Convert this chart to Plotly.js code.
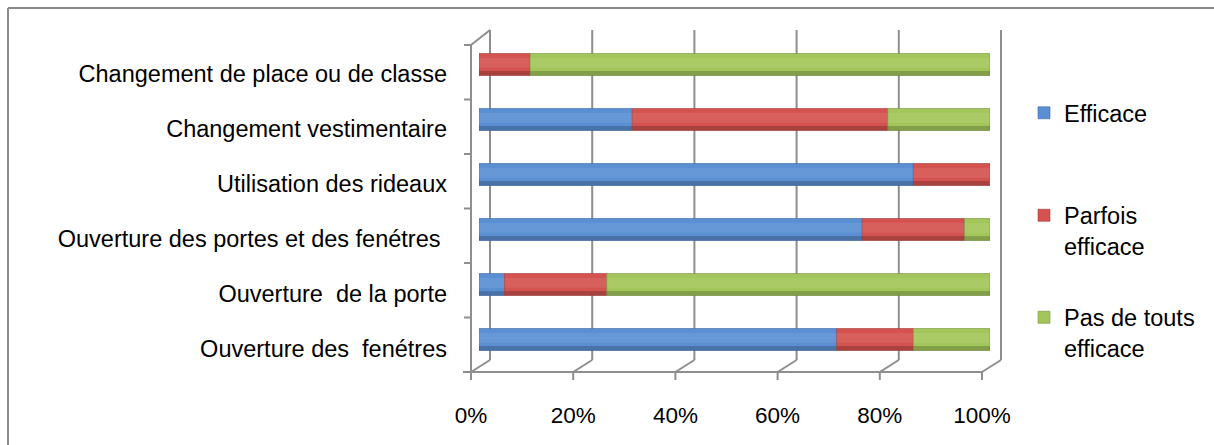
<!DOCTYPE html>
<html>
<head>
<meta charset="utf-8">
<script src="https://cdn.plot.ly/plotly-3.0.1.min.js"></script>
<style>
  html, body { margin: 0; padding: 0; background: #fff; }
  #chart { width: 1214px; height: 445px; }
</style>
</head>
<body>
<div id="chart"></div>
<script>
// ---- data (bottom to top, as drawn) ----
const categories = [
  'Ouverture des\u00a0 fenétres',
  'Ouverture\u00a0 de la porte',
  'Ouverture des portes et des fenétres\u00a0',
  'Utilisation des rideaux',
  'Changement vestimentaire',
  'Changement de place ou de classe'
];
const seriesNames = ['Efficace', 'Parfois<br>efficace', 'Pas de touts<br>efficace'];
const efficace        = [70, 5, 75, 85, 30, 0];
const parfoisEfficace = [15, 20, 20, 15, 50, 10];
const pasEfficace     = [15, 75, 5, 0, 20, 90];
const tickVals = [0, 20, 40, 60, 80, 100];
const tickLabels = ['0%', '20%', '40%', '60%', '80%', '100%'];

// ---- styling ----
const colors = ['#5a8fd3', '#d4524f', '#a3c65a'];
const edgeColors = ['#3a6aa5', '#a53c3a', '#76923c'];
const FONT = 'Liberation Sans, Arial, sans-serif';

const PLOT_TOP = 37, PLOT_H = 330, PLOT_BOTTOM = PLOT_TOP + PLOT_H;
const PLOT_LEFT = 479, PLOT_W = 511;
const X_MAX = 100;
const P = px => (PLOT_BOTTOM - px) / PLOT_H;

const allSeries = [efficace, parfoisEfficace, pasEfficace];
const bases = [];
let running = categories.map(() => 0);
allSeries.forEach(s => { bases.push(running.slice()); running = running.map((r, i) => r + s[i]); });

const BW = 0.4;
const traces = [];
allSeries.forEach((s, k) => {
  traces.push({
    type: 'bar', orientation: 'h', y: categories, x: s, base: bases[k],
    width: BW, offset: -BW / 2, name: seriesNames[k],
    marker: { color: colors[k], line: { color: edgeColors[k], width: 0.6 } },
    legend: k === 0 ? 'legend' : 'legend' + (k + 1),
    hoverinfo: 'skip'
  });
  // cylinder shading: dark lower band + soft light upper band
  traces.push({
    type: 'bar', orientation: 'h', y: categories, x: s, base: bases[k],
    width: 0.08, offset: -BW / 2, showlegend: false, hoverinfo: 'skip',
    marker: { color: 'rgba(0,0,0,0.2)', line: { width: 0 } }
  });
  traces.push({
    type: 'bar', orientation: 'h', y: categories, x: s, base: bases[k],
    width: 0.18, offset: -0.06, showlegend: false, hoverinfo: 'skip',
    marker: { color: 'rgba(255,255,255,0.08)', line: { width: 0 } }
  });
});

// ---- 3D frame decorations (paper-referenced so they are not clipped) ----
const gridColor = '#8e8e8e';
const FRONT_DX = -8, BACK_DX = 11;
const shapes = [];
function seg(v, dx0, py0, dx1, py1) {
  shapes.push({ type: 'line', layer: 'below', xref: 'paper', xsizemode: 'pixel', xanchor: v / X_MAX,
    x0: dx0, x1: dx1, yref: 'paper', y0: P(py0), y1: P(py1),
    line: { color: gridColor, width: 2 } });
}
tickVals.forEach(v => {
  seg(v, BACK_DX, 360, BACK_DX, 30);          // back gridline
  seg(v, FRONT_DX, 372, BACK_DX, 360);        // floor diagonal
  seg(v, FRONT_DX, 372, FRONT_DX, 380);       // front tick
});
shapes.push({ type: 'line', layer: 'below', xref: 'paper', xsizemode: 'pixel', xanchor: 0,
  x0: -16, x1: PLOT_W + FRONT_DX, yref: 'paper', y0: P(372), y1: P(372),
  line: { color: gridColor, width: 2 } });  // front floor edge
seg(0, FRONT_DX, 45, FRONT_DX, 372);          // wall front edge
seg(0, FRONT_DX, 45, BACK_DX, 30);            // wall top
for (let k = 0; k <= categories.length; k++) seg(0, -15, 372 - 54.5 * k, FRONT_DX, 372 - 54.5 * k);
// outer chart border (left + top)
shapes.push({ type: 'line', xref: 'paper', xsizemode: 'pixel', xanchor: 0, x0: 8 - PLOT_LEFT, x1: 8 - PLOT_LEFT,
  yref: 'paper', y0: P(8), y1: P(450), line: { color: '#8a8a8a', width: 2 } });
shapes.push({ type: 'line', xref: 'paper', xsizemode: 'pixel', xanchor: 0, x0: 8 - PLOT_LEFT, x1: 1214 - PLOT_LEFT,
  yref: 'paper', y0: P(8), y1: P(8), line: { color: '#8a8a8a', width: 2 } });

const legendBase = { bgcolor: 'rgba(0,0,0,0)', font: { family: FONT, size: 23.5, color: '#000' },
  xanchor: 'left', yanchor: 'middle', valign: 'top', itemwidth: 30 };
const lx = (1024 - PLOT_LEFT) / PLOT_W;

const layout = {
  width: 1214, height: 445,
  margin: { l: PLOT_LEFT, r: 1214 - PLOT_LEFT - PLOT_W, t: PLOT_TOP, b: 445 - PLOT_BOTTOM, pad: 0 },
  paper_bgcolor: '#fff', plot_bgcolor: 'rgba(0,0,0,0)',
  barmode: 'overlay',
  font: { family: FONT, color: '#000' },
  xaxis: { range: [0, X_MAX], tickvals: tickVals, ticktext: tickLabels, showgrid: false, zeroline: false,
    showline: false, ticks: '', tickfont: { family: FONT, size: 22.5, color: '#000' },
    ticklabelshift: -8, ticklabelstandoff: 32, fixedrange: true },
  yaxis: { type: 'category', categoryorder: 'array', categoryarray: categories, range: [-0.5, 5.5],
    showgrid: false, zeroline: false, showline: false, ticks: '',
    tickfont: { family: FONT, size: 23.5, color: '#000' },
    ticklabelshift: 9, ticklabelstandoff: 31, fixedrange: true },
  legend:  Object.assign({}, legendBase, { x: lx, y: P(113) }),
  legend2: Object.assign({}, legendBase, { x: lx, y: P(231) }),
  legend3: Object.assign({}, legendBase, { x: lx, y: P(333) }),
  shapes: shapes,
  showlegend: true
};

Plotly.newPlot('chart', traces, layout, { staticPlot: true, displayModeBar: false });
</script>
</body>
</html>
